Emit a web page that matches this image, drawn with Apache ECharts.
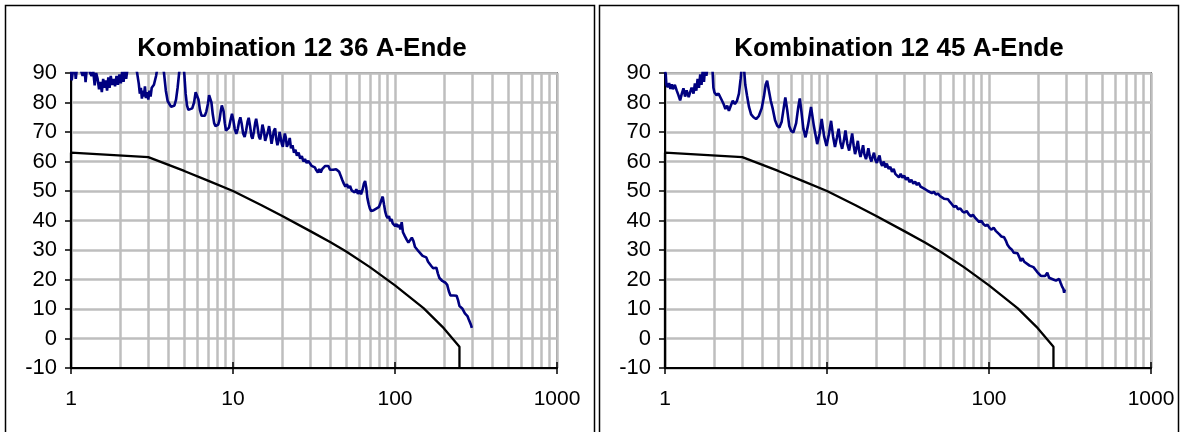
<!DOCTYPE html>
<html><head><meta charset="utf-8">
<script src="https://cdn.jsdelivr.net/npm/echarts@6/dist/echarts.min.js"></script>
<style>html,body{margin:0;padding:0;background:#fff}#c{width:1182px;height:432px}</style>
</head><body><div id="c"></div>
<script>
const titles = ['Kombination 12 36 A-Ende', 'Kombination 12 45 A-Ende'];
const yTicks = [-10, 0, 10, 20, 30, 40, 50, 60, 70, 80, 90];
const xDecades = [1, 10, 100, 1000];
const minorGrid = [2,3,4,5,6,7,8,9,20,30,40,50,60,70,80,90,200,300,400,500,600,700,800,900];

// limit line (black), same in both panels: [frequency, level]
const limitLine = [[1,-10],[1,63],[3,61.5],[5,56.8],[7,53.5],[10,50],[15,45.2],[20,41.6],[30,36.4],[40,32.6],[50,29.5],[70,24.2],[100,18],[150,10.3],[200,3.5],[250,-2.8],[250,-10]];

// measured curve, left panel (12 36)
const measLeft = [[1.00,92],[1.01,87.5],[1.03,91],[1.05,93],[1.07,88],[1.09,92],[1.12,95],[1.15,91],[1.18,89],[1.21,92],[1.23,86.9],[1.25,91],[1.28,93],[1.31,90],[1.34,89],[1.37,91],[1.40,85.8],[1.43,90],[1.46,88],[1.49,84.5],[1.52,87],[1.55,83.5],[1.58,88],[1.61,85],[1.64,87.5],[1.67,84],[1.70,88.5],[1.73,85],[1.76,89],[1.79,86],[1.83,88],[1.87,85.5],[1.91,89],[1.95,86],[1.99,89.5],[2.03,86.5],[2.07,90.5],[2.11,87],[2.15,91],[2.19,88],[2.24,92],[2.30,94],[2.40,95],[2.50,93],[2.56,90],[2.62,86.4],[2.66,83],[2.70,85],[2.74,81.3],[2.78,84],[2.82,82],[2.86,85.5],[2.90,81.5],[2.95,83.5],[3.00,81],[3.05,84],[3.10,82],[3.15,85],[3.25,86],[3.35,89],[3.45,93],[3.55,96],[3.65,95],[3.75,90],[3.85,84],[3.95,80.5],[4.05,79.5],[4.15,78.5],[4.25,78],[4.35,79],[4.45,81],[4.55,85],[4.65,90],[4.75,94],[4.89,95],[5.00,90],[5.10,83],[5.20,79],[5.30,77.5],[5.45,77.3],[5.60,78],[5.75,80],[5.88,83.5],[6.00,83.9],[6.12,81],[6.25,77.5],[6.40,75.5],[6.55,75],[6.70,75.5],[6.85,77],[7.00,79.5],[7.12,82.5],[7.24,83],[7.36,80],[7.50,76],[7.65,73],[7.80,72],[7.96,71.7],[8.10,72.5],[8.25,74],[8.40,77],[8.53,79],[8.63,79],[8.75,77],[8.90,73],[9.05,70.5],[9.27,70],[9.45,71.5],[9.65,74],[9.86,76.2],[10.05,74],[10.25,71],[10.48,69.4],[10.70,71],[10.90,73.5],[11.10,75],[11.30,73],[11.55,69.5],[11.80,68.3],[12.05,70.5],[12.30,73.5],[12.50,74.8],[12.75,72],[13.00,68.5],[13.20,67.7],[13.45,70],[13.70,73],[13.90,74.5],[14.15,72],[14.45,68.5],[14.70,67.5],[14.95,69.5],[15.2,72.5],[15.5,70.5],[15.8,67],[16.1,66.5],[16.4,70],[16.7,72],[17.0,69],[17.3,66],[17.6,66.5],[17.9,70.5],[18.2,71.2],[18.5,67.5],[18.8,65.5],[19.1,67],[19.4,70],[19.7,69.5],[20.0,66],[20.3,65],[20.6,67.5],[20.9,69.5],[21.2,68],[21.5,65],[21.8,64.5],[22.1,66.5],[22.4,68],[22.8,64.5],[23.3,65.5],[23.8,63],[24.3,64],[24.8,62],[25.4,63],[26.0,61],[26.6,61.8],[27.2,60],[27.8,60.8],[28.5,59.5],[29.2,60.2],[29.9,59.7],[30.6,58.5],[31.3,59],[32.0,58],[32.7,57],[33.4,56.3],[34.1,57.5],[34.8,56.3],[35.5,57.4],[36.3,57.8],[37.1,58.5],[37.9,58],[38.8,58.5],[39.7,57.2],[40.6,57.6],[41.5,57.2],[42.4,57.8],[43.3,57.4],[44.2,57.8],[45.2,56.5],[46.2,55.2],[47.2,53.8],[48.3,52.5],[49.4,51.5],[50.5,52.3],[51.6,51],[52.8,51.7],[54.0,50.2],[55.2,50.8],[56.4,49.5],[57.7,50.6],[59.0,49],[60.3,50.2],[61.7,48.9],[63.1,50.5],[64.3,52.5],[65.4,53.4],[66.5,51],[67.6,47.5],[68.8,45.5],[70.0,44],[71.3,43.2],[72.6,42.7],[73.9,43.5],[75.2,43],[76.6,44],[78.0,43.8],[79.4,44.5],[80.8,45.5],[82.2,46.8],[84.0,48.1],[85.5,45.5],[87.0,43],[88.6,41.5],[90.2,40.8],[91.8,41.5],[93.4,39.8],[95.1,40.5],[96.8,39],[98.5,39.6],[100.3,38.1],[102.1,38.8],[104.0,37.8],[106.0,38.5],[108.0,37],[110.0,39.4],[112,36],[115,34.7],[118,33.5],[121,32.5],[124,33],[127,34.2],[130,33],[133,31],[136,30.8],[140,29.5],[144,29],[148,28],[152,28.5],[156,27.5],[160,26],[164,25.7],[168,24.5],[172,23.8],[176,23.4],[180,24],[184,22],[188,20.5],[192,20],[196,19.5],[200,19.3],[205,18.9],[210,18.2],[215,16],[220,14.6],[225,15],[230,14.6],[235,14.9],[240,14.5],[245,13],[250,11],[255,10.5],[260,10.2],[265,9.8],[270,8.5],[275,8],[280,7.6],[285,6.5],[290,5.5],[295,4.5],[298,3.6]];

// measured curve, right panel (12 45)
const measRight = [[1.00,90.5],[1.01,89.8],[1.02,86],[1.04,85.2],[1.06,86.6],[1.08,84.6],[1.10,86.2],[1.12,84.5],[1.15,86],[1.18,84.1],[1.21,82.5],[1.24,80.7],[1.27,83],[1.30,84.8],[1.33,82],[1.36,84.1],[1.40,81.8],[1.43,83.5],[1.46,85],[1.50,83],[1.53,86.5],[1.56,84],[1.59,88],[1.62,85],[1.65,89.5],[1.68,86],[1.71,91],[1.74,87],[1.77,92],[1.80,89],[1.84,93],[1.90,95],[1.96,92],[1.99,85],[2.02,83.4],[2.08,82.5],[2.14,83],[2.20,81.7],[2.26,82],[2.30,79.5],[2.36,77.8],[2.42,78.9],[2.48,77.2],[2.55,79],[2.62,80.6],[2.70,79.5],[2.78,80.5],[2.86,83],[2.93,88],[3.00,94],[3.06,93],[3.13,86],[3.21,82.3],[3.30,78.5],[3.40,76],[3.52,75],[3.65,74.4],[3.80,75.5],[3.95,78],[4.08,82],[4.18,86],[4.27,87.4],[4.38,84],[4.50,80.5],[4.62,78],[4.78,74],[4.93,72.1],[5.08,71.5],[5.25,73.5],[5.40,78],[5.53,81.7],[5.68,77.5],[5.85,72],[6.0,70.4],[6.2,69.9],[6.45,73],[6.65,78.5],[6.79,81.4],[6.95,77],[7.15,71],[7.37,68.2],[7.65,72.5],[7.97,78.5],[8.3,72],[8.7,65.9],[9.0,69.5],[9.27,74.4],[9.6,68.5],[9.93,65.3],[10.25,69],[10.6,73.8],[10.9,68.5],[11.2,64.9],[11.5,68],[11.8,71.1],[12.1,66.5],[12.4,64.3],[12.7,67],[13.0,70.5],[13.35,66],[13.7,63.7],[14.0,66.5],[14.3,69.5],[14.6,65.5],[14.9,62.5],[15.2,64.5],[15.5,67],[15.8,63.5],[16.1,61.5],[16.4,63.5],[16.7,65.5],[17.0,62.5],[17.4,60.8],[17.7,62.5],[18.0,64.5],[18.4,61.5],[18.8,60],[19.1,61.5],[19.5,63],[19.9,60.5],[20.3,59.5],[20.7,61],[21.1,62],[21.5,59.5],[21.9,58.5],[22.4,60],[22.9,58],[23.4,59.3],[24.0,57.5],[24.6,58.2],[25.2,56.5],[25.8,57.5],[26.4,55.8],[27.1,56.3],[27.8,54.6],[28.5,55.8],[29.2,54.5],[30.0,55.2],[30.7,53.8],[31.5,54.6],[32.3,53],[33.2,53.8],[34.1,52.5],[35.0,53.2],[35.9,52],[36.8,52.8],[37.8,51.5],[38.8,51.9],[39.8,50.8],[40.9,51.2],[42.0,50],[43.2,50.3],[44.4,49.3],[45.7,49.7],[47.0,48.8],[48.4,49.1],[49.8,48.3],[51.2,48.6],[52.7,47.4],[54.2,47.8],[55.8,47.2],[57.4,46.3],[59.0,45.5],[60.8,44.6],[62.6,44.9],[64.5,43.8],[66.5,44.1],[68.5,43.1],[70.6,42.7],[72.8,43.2],[75.0,42.1],[77.3,41.4],[79.6,41.9],[82.0,41],[84.5,40.2],[87.0,39.5],[89.6,39.9],[92.3,38.8],[95.0,38.2],[97.8,38.6],[100.7,37.5],[103.7,36.9],[106.8,37.6],[110,36.5],[113,35.9],[116,35.3],[119,34.6],[122,34],[124,34.3],[127,33.2],[130,31.8],[134,30.8],[138,30.2],[142,29.1],[146,28.5],[150,28.9],[154,27.5],[157,26.3],[161,27.2],[165,26],[169,25.5],[173,25.2],[178,24.7],[183,25.2],[188,24.2],[193,23.6],[198,22.6],[203,22.2],[209,21.2],[215,21.8],[222,21.2],[229,22.3],[235,20.6],[241,21],[247,20.1],[253,20.5],[259,19.6],[265,19],[271,20.2],[277,18.8],[283,17.5],[288,16.8],[291,15.5],[294,16.6]];

const FONT = 'Liberation Sans, Arial, sans-serif';
const panels = [{left: 71, cx: 302, data: measLeft}, {left: 665, cx: 899, data: measRight}];
const GRID_COLOR = '#bebebe';

const grids = [], xAxes = [], yAxes = [], series = [], graphics = [];
panels.forEach((p, i) => {
  grids.push({left: p.left, top: 73, width: 486, height: 295, show: true, borderColor: '#808080', borderWidth: 2, backgroundColor: 'transparent'});
  xAxes.push({
    type: 'log', logBase: 10, min: xDecades[0], max: xDecades[xDecades.length-1], gridIndex: i,
    axisLine: {onZero: false, lineStyle: {color: '#000', width: 2}},
    axisTick: {show: true, length: 6, lineStyle: {color: '#000', width: 1.5}},
    axisLabel: {color: '#000', fontSize: 21, fontFamily: FONT, margin: 21, formatter: v => String(Math.round(v))},
    splitLine: {show: true, lineStyle: {color: GRID_COLOR, width: 2.5}},
    z: 0
  });
  xAxes.push({
    type: 'log', logBase: 10, min: xDecades[0], max: xDecades[xDecades.length-1], gridIndex: i, position: 'bottom',
    axisLine: {show: false, onZero: false}, axisTick: {show: true, inside: true, length: 6, lineStyle: {color: '#000', width: 1.5}},
    axisLabel: {show: false}, splitLine: {show: false}, z: 6
  });
  yAxes.push({
    type: 'value', min: yTicks[0], max: yTicks[yTicks.length-1], interval: 10, gridIndex: i,
    axisLine: {show: true, onZero: false, lineStyle: {color: '#000', width: 2}},
    axisTick: {show: true, length: 6, lineStyle: {color: '#000', width: 1.5}},
    axisLabel: {color: '#000', fontSize: 22, fontFamily: FONT, margin: 14},
    splitLine: {show: true, lineStyle: {color: GRID_COLOR, width: 2.5}},
    z: 0
  });
  series.push({
    type: 'line', xAxisIndex: i*2, yAxisIndex: i, data: [], silent: true, z: 0,
    markLine: {silent: true, symbol: ['none','none'], label: {show: false}, animation: false, z: 0,
      lineStyle: {color: GRID_COLOR, width: 2.5, type: 'solid'},
      data: minorGrid.map(v => ({xAxis: v}))}
  });
  series.push({
    type: 'line', xAxisIndex: i*2, yAxisIndex: i, data: limitLine, showSymbol: false, z: 3,
    lineStyle: {color: '#000', width: 2.3}, clip: true
  });
  series.push({
    type: 'line', xAxisIndex: i*2, yAxisIndex: i, data: p.data, showSymbol: false, z: 4,
    lineStyle: {color: '#000080', width: 2.6}, clip: true
  });
  graphics.push({type: 'text', x: p.cx, y: 49, z: 10,
    style: {text: titles[i], fill: '#000', font: 'bold 26px ' + FONT, textAlign: 'center', textVerticalAlign: 'middle'}});
});
graphics.push({type: 'rect', shape: {x: 5.5, y: 5.5, width: 589, height: 440}, style: {fill: 'none', stroke: '#000', lineWidth: 1.5}, z: 10});
graphics.push({type: 'rect', shape: {x: 599.5, y: 5.5, width: 579, height: 440}, style: {fill: 'none', stroke: '#000', lineWidth: 1.5}, z: 10});

const chart = echarts.init(document.getElementById('c'), null, {renderer: 'canvas'});
chart.setOption({
  animation: false, backgroundColor: '#fff',
  grid: grids, xAxis: xAxes, yAxis: yAxes, series: series, graphic: graphics
});
</script></body></html>
